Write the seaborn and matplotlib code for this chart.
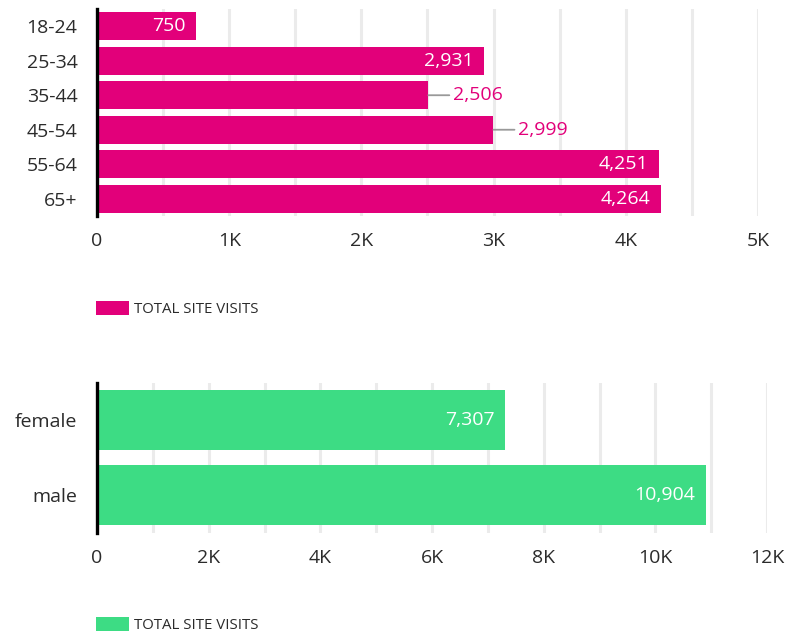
import matplotlib
matplotlib.use("Agg")
import matplotlib.pyplot as plt
import matplotlib.ticker as mticker
from matplotlib.patches import Patch
import seaborn as sns
import pandas as pd

# Site visits by age group
age_groups = ["18-24", "25-34", "35-44", "45-54", "55-64", "65+"]
age_visits = [750, 2931, 2506, 2999, 4251, 4264]

# Site visits by gender
genders = ["female", "male"]
gender_visits = [7307, 10904]

age_ticks = [0, 1000, 2000, 3000, 4000, 5000]
gender_ticks = [0, 2000, 4000, 6000, 8000, 10000, 12000]

series_label = "TOTAL SITE VISITS"
outside_labels = {"35-44", "45-54"}

MAGENTA = "#E2007A"
GREEN = "#3DDC84"
GRID = "#EBEBEB"
TEXT = "#2B2B2B"

sns.set_theme(style="white")
plt.rcParams["font.family"] = ["Open Sans", "DejaVu Sans"]

fig = plt.figure(figsize=(8.01, 6.33), dpi=100)
ax_age = fig.add_axes([0.1211, 0.6588, 0.8252, 0.3270])
ax_gen = fig.add_axes([0.1211, 0.1580, 0.8365, 0.2370])


def k_fmt(v, _pos):
    return "0" if v == 0 else f"{int(v / 1000)}K"


def style_axis(ax, ticks, minor_step, xpad):
    ax.set_xlim(ticks[0], ticks[-1])
    ax.xaxis.set_major_locator(mticker.FixedLocator(ticks))
    ax.xaxis.set_minor_locator(mticker.MultipleLocator(minor_step))
    ax.xaxis.set_major_formatter(mticker.FuncFormatter(k_fmt))
    ax.grid(axis="x", which="both", color=GRID, linewidth=2.2)
    ax.set_axisbelow(True)
    for side in ("top", "right", "bottom"):
        ax.spines[side].set_visible(False)
    ax.spines["left"].set_color("black")
    ax.spines["left"].set_linewidth(2.4)
    ax.tick_params(axis="x", which="both", length=0, labelsize=14, labelcolor=TEXT, pad=xpad)
    ax.tick_params(axis="y", length=0, labelsize=14, labelcolor=TEXT, pad=14)
    ax.set_xlabel("")
    ax.set_ylabel("")


def label_bars(ax, cats, vals, color, outside=()):
    for i, (c, v) in enumerate(zip(cats, vals)):
        txt = f"{v:,}"
        if c in outside:
            ax.annotate(txt, xy=(v, i), xytext=(17.5, 0), textcoords="offset points",
                        ha="left", va="center", fontsize=14, color=color,
                        arrowprops=dict(arrowstyle="-", color="#999999", lw=1.3,
                                        shrinkA=0, shrinkB=0, relpos=(0, 0.5)))
        else:
            ax.annotate(txt, xy=(v, i), xytext=(-7.5, 0), textcoords="offset points",
                        ha="right", va="center", fontsize=14, color="white")


def add_legend(ax, color, y_fig):
    handle = Patch(facecolor=color, edgecolor="none", label=series_label)
    fig.legend(handles=[handle], loc="center left", bbox_to_anchor=(0.1199, y_fig),
               bbox_transform=fig.transFigure, frameon=False, fontsize=10.8,
               handlelength=2.2, handleheight=1.1, handletextpad=0.33,
               borderpad=0, borderaxespad=0, labelcolor=TEXT)


age_df = pd.DataFrame({"group": age_groups, "visits": age_visits})
sns.barplot(data=age_df, x="visits", y="group", orient="h", color=MAGENTA,
            saturation=1, width=0.81, linewidth=0, ax=ax_age)
style_axis(ax_age, age_ticks, 500, 11.5)
ax_age.set_ylim(len(age_groups) - 0.5, -0.5)
label_bars(ax_age, age_groups, age_visits, MAGENTA, outside_labels)
add_legend(ax_age, MAGENTA, 1 - 309 / 633)

gen_df = pd.DataFrame({"gender": genders, "visits": gender_visits})
sns.barplot(data=gen_df, x="visits", y="gender", orient="h", color=GREEN,
            saturation=1, width=0.8, linewidth=0, ax=ax_gen)
style_axis(ax_gen, gender_ticks, 1000, 11.5)
ax_gen.set_ylim(len(genders) - 0.5, -0.5)
label_bars(ax_gen, genders, gender_visits, GREEN)
add_legend(ax_gen, GREEN, 1 - 625 / 633)

fig.savefig("out.png", dpi=100, facecolor="white")
